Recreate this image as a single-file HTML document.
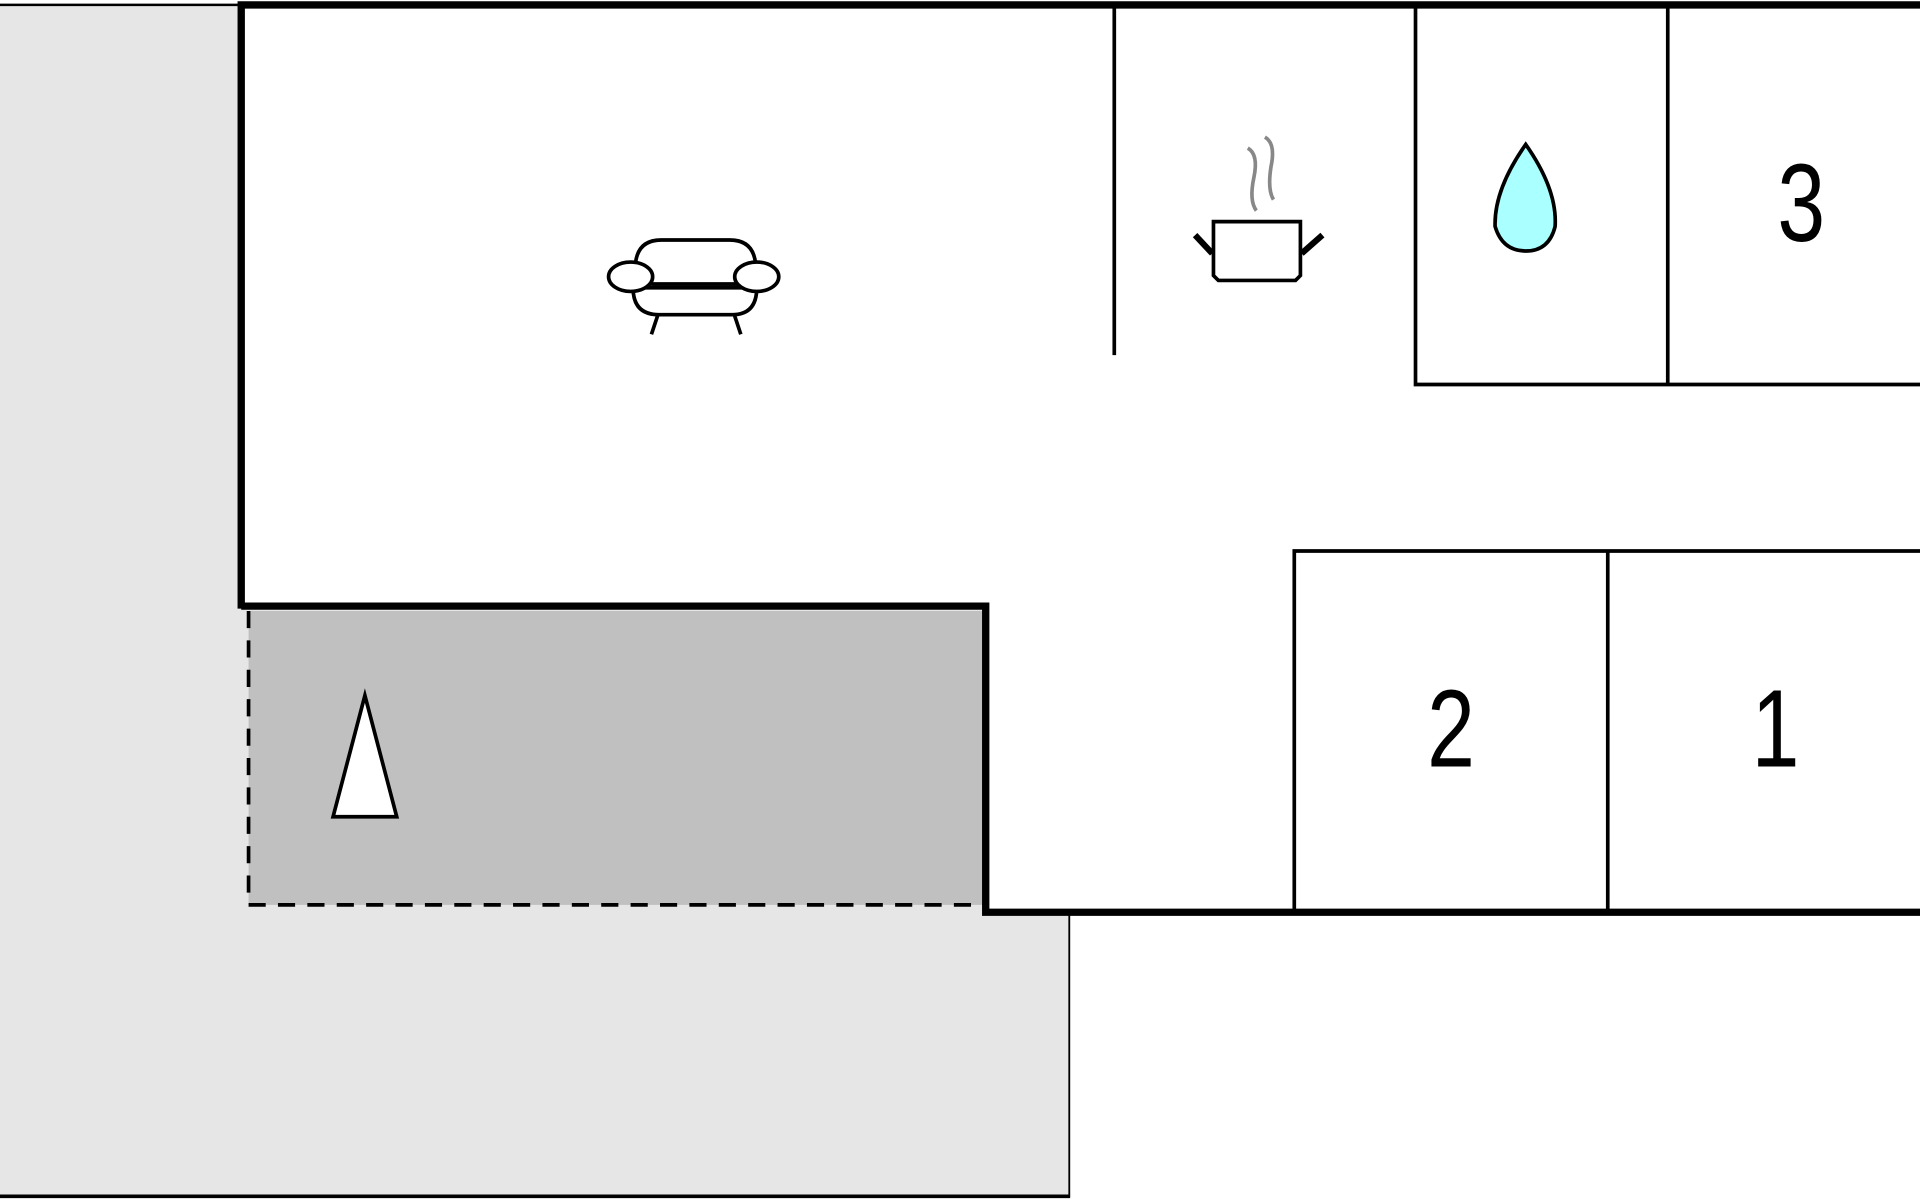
<!DOCTYPE html>
<html><head><meta charset="utf-8"><style>
html,body{margin:0;padding:0;background:#fff;overflow:hidden}
svg{display:block}
</style></head><body>
<svg width="1920" height="1200" viewBox="0 0 1568 980" preserveAspectRatio="none" xmlns="http://www.w3.org/2000/svg">
<rect x="0" y="0" width="1568" height="980" fill="#fff"/>
<rect x="0" y="4" width="874" height="973" fill="#e6e6e6"/>
<line x1="0" y1="4" x2="197" y2="4" stroke="#000" stroke-width="2"/>
<line x1="0" y1="977" x2="874" y2="977" stroke="#000" stroke-width="3"/>
<line x1="874" y1="745" x2="874" y2="978" stroke="#000" stroke-width="3"/>
<rect x="874" y="747" width="694" height="233" fill="#fff"/>
<path d="M197,4 H1568 V745 H805 V495 H197 Z" fill="#fff"/>
<rect x="203" y="499" width="600" height="240" fill="#c0c0c0"/>
<path d="M203,499 V739 H803" fill="none" stroke="#000" stroke-width="3" stroke-dasharray="14,10"/>
<path d="M197,497 V4 H1568" fill="none" stroke="#000" stroke-width="6"/>
<path d="M197,495 H805 V745 H1568" fill="none" stroke="#000" stroke-width="6"/>
<line x1="910" y1="4" x2="910" y2="290" stroke="#000" stroke-width="3"/>
<path d="M1156,4 V314 H1568" fill="none" stroke="#000" stroke-width="3"/>
<line x1="1362" y1="4" x2="1362" y2="314" stroke="#000" stroke-width="3"/>
<path d="M1057,745 V450 H1568" fill="none" stroke="#000" stroke-width="3"/>
<line x1="1313" y1="450" x2="1313" y2="745" stroke="#000" stroke-width="3"/>
<g font-family="Liberation Sans, sans-serif" font-size="90" text-anchor="middle" fill="#000">
<text transform="translate(1471,197) scale(0.78,1)">3</text>
<text transform="translate(1185,626) scale(0.78,1)">2</text>
<text transform="translate(1450,626) scale(0.78,1)">1</text>
</g>
<g fill="#fff" stroke="#000" stroke-width="3">
<path d="M519,215 Q521,196 540,196 H596 Q615,196 617,215 V232 H519 Z"/>
<path d="M517,235 Q517,257 538,257 H598 Q618,257 618,235 Z"/>
<line x1="533" y1="232" x2="603" y2="232"/>
<ellipse cx="515" cy="226" rx="18" ry="12"/>
<ellipse cx="618" cy="226" rx="18" ry="12"/>
<line x1="537" y1="258" x2="532" y2="273"/>
<line x1="600" y1="258" x2="605" y2="273"/>
</g>
<g stroke="#000" stroke-width="3" fill="#fff">
<path d="M991,181 H1062 V225 L1058,229 H995 L991,225 Z"/>
<line x1="990" y1="207" x2="976" y2="192" stroke-width="5"/>
<line x1="1063" y1="207" x2="1080" y2="192" stroke-width="5"/>
</g>
<g stroke="#888" stroke-width="3" fill="none">
<path d="M1019,121 Q1028,126 1024,145 Q1020,164 1026,172"/>
<path d="M1033,112 Q1042,117 1038,136 Q1035,155 1040,163"/>
</g>
<path d="M1246,118 Q1272,155 1270,185 Q1265,205 1246,205 Q1227,205 1221,185 Q1220,155 1246,118 Z" fill="#aaffff" stroke="#000" stroke-width="3"/>
<path d="M298,568 L324,667 L272,667 Z" fill="#fff" stroke="#000" stroke-width="3"/>
</svg>
</body></html>
